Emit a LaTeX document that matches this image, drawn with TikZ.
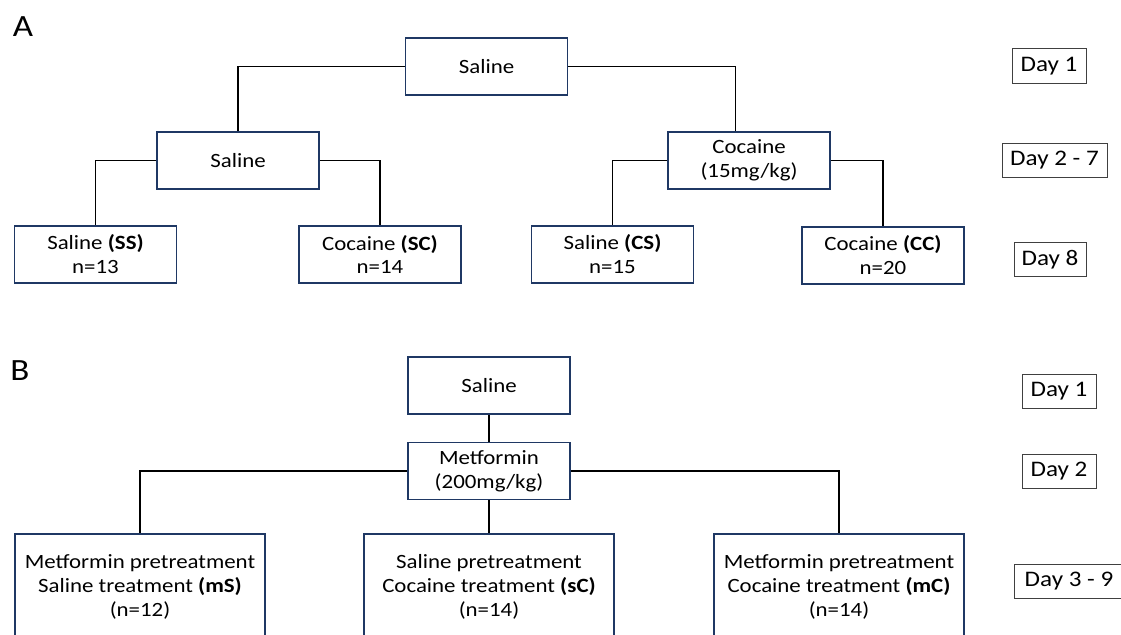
\documentclass[tikz,border=0pt]{standalone}
\usepackage{fontspec}
\setmainfont[FakeStretch=1.13]{Carlito}
\definecolor{boxblue}{HTML}{1F3864}

\begin{document}
\begin{tikzpicture}[x=0.025cm, y=0.025cm]
		\tikzstyle{every node}+=[inner sep=0pt, font=\fontsize{14.4}{17}\selectfont]
		\tikzstyle{arm}=[draw=boxblue, line width=1.1pt, minimum width=4.05cm, minimum height=1.425cm, align=center]
		\tikzstyle{armwide}=[arm, minimum width=6.25cm, minimum height=2.65cm]
		\tikzstyle{daybox}=[draw=black!75, line width=0.7pt, minimum height=0.85cm, font=\fontsize{15.8}{18}\selectfont]
		\tikzstyle{panel}=[font=\fontsize{22}{26}\selectfont]
		\tikzstyle{wire}=[black, line width=0.85pt]
		\useasboundingbox (0,0) rectangle (1121,-635);
		% panel A
		\node [panel] (lblA) at (23,-27) {A};
		\node [arm] (salTop) at (486.5,-66.5) {Saline};
		\node [arm] (salMid) at (238,-160.5) {Saline};
		\node [arm] (cocMid) at (749,-160.5) {Cocaine\\(15mg/kg)};
		\node [arm] (ss) at (95.5,-254.5) {Saline \textbf{(SS)}\\n=13};
		\node [arm] (sc) at (380,-254.5) {Cocaine \textbf{(SC)}\\n=14};
		\node [arm] (cs) at (612.5,-254.5) {Saline \textbf{(CS)}\\n=15};
		\node [arm] (cc) at (883,-255.5) {Cocaine \textbf{(CC)}\\n=20};
		\node [daybox, minimum width=1.85cm] (dayA1) at (1049,-66) {Day 1};
		\node [daybox, minimum width=2.625cm] (dayA2) at (1054.5,-160.5) {Day 2 - 7};
		\node [daybox, minimum width=1.8cm] (dayA3) at (1050,-259.5) {Day 8};
		\draw [wire] (salTop.west) -| (salMid.north);
		\draw [wire] (salTop.east) -| ([xshift=-0.33cm]cocMid.north);
		\draw [wire] (salMid.west) -| (ss.north);
		\draw [wire] (salMid.east) -| (sc.north);
		\draw [wire] (cocMid.west) -| (cs.north);
		\draw [wire] (cocMid.east) -| (cc.north);
		% panel B
		\node [panel] (lblB) at (20,-371) {B};
		\node [arm] (salB) at (489,-385.5) {Saline};
		\node [arm] (met) at (489,-471) {Metformin\\(200mg/kg)};
		\node [armwide] (mS) at (140,-587) {Metformin pretreatment\\Saline treatment \textbf{(mS)}\\(n=12)};
		\node [armwide] (sC) at (489,-587) {Saline pretreatment\\Cocaine treatment \textbf{(sC)}\\(n=14)};
		\node [armwide] (mC) at (839,-587) {Metformin pretreatment\\Cocaine treatment \textbf{(mC)}\\(n=14)};
		\node [daybox, minimum width=1.85cm] (dayB1) at (1059,-391.5) {Day 1};
		\node [daybox, minimum width=1.85cm] (dayB2) at (1059,-471.5) {Day 2};
		\node [daybox, minimum width=2.75cm] (dayB3) at (1069,-581) {Day 3 - 9};
		\draw [wire] (salB.south) -- (met.north);
		\draw [wire] (met.south) -- (sC.north);
		\draw [wire] (met.west) -| (mS.north);
		\draw [wire] (met.east) -| (mC.north);
	\end{tikzpicture}
\end{document}
